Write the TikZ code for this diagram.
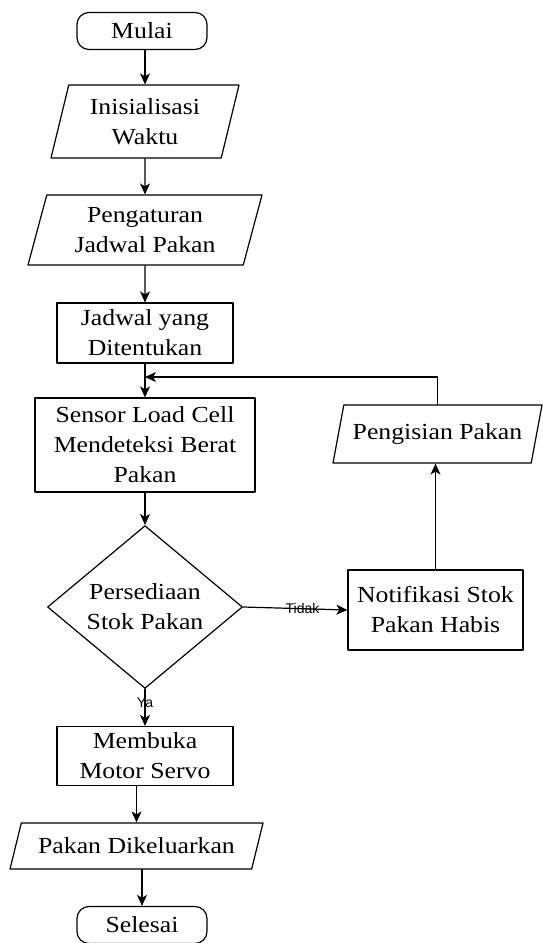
\documentclass[tikz,border=0pt]{standalone}
\usepackage{fontspec}
\setmainfont[FakeStretch=1.12]{Liberation Serif}
\newfontfamily\lblfont{Liberation Sans}
\usetikzlibrary{arrows.meta,shapes.geometric}

\tikzset{
	flow/.style={draw, align=center, inner sep=0pt, font=\fontsize{23}{30}\selectfont},
	terminal/.style={flow, rectangle, rounded corners=12pt},
	process/.style={flow, rectangle},
	io/.style 2 args={flow, trapezium, trapezium left angle=#1, trapezium right angle=#2, trapezium stretches body},
	decision/.style={flow, diamond},
	lbl/.style={inner sep=0pt, font=\lblfont\fontsize{14}{16}\selectfont},
	arrow/.style={-{Stealth[length=11pt,width=10pt,inset=3pt]}}
}

\begin{document}
\begin{tikzpicture}[line cap=round,line join=round,x=1pt,y=-1pt,line width=1.2pt]
	\useasboundingbox (0,0) rectangle (543,943);
	% main column
	\node[terminal, minimum width=130pt, minimum height=37pt] (mulai) at (142,31) {Mulai};
	\node[io={69}{111}, minimum width=188pt, minimum height=73pt] (waktu) at (145,121.5) {Inisialisasi\\Waktu};
	\node[io={67.5}{112.5}, minimum width=234pt, minimum height=70pt] (atur) at (145,230) {Pengaturan\\Jadwal Pakan};
	\node[process, minimum width=176pt, minimum height=60pt] (jadwal) at (145,333) {Jadwal yang\\Ditentukan};
	\node[process, minimum width=220pt, minimum height=94pt] (sensor) at (145,445) {Sensor Load Cell\\Mendeteksi Berat\\Pakan};
	\node[decision, minimum width=195pt, minimum height=160pt] (stok) at (145,607) {Persediaan\\Stok Pakan};
	\node[process, minimum width=176pt, minimum height=59pt] (buka) at (145,756) {Membuka\\Motor Servo};
	\node[io={55}{125}, minimum width=253pt, minimum height=46pt] (keluar) at (136.5,846) {Pakan Dikeluarkan};
	\node[terminal, minimum width=130pt, minimum height=37pt] (selesai) at (142,925) {Selesai};
	% side branch
	\node[process, minimum width=175pt, minimum height=80pt] (notif) at (435.5,610) {Notifikasi Stok\\Pakan Habis};
	\node[io={62.7}{117.3}, minimum width=209pt, minimum height=58pt] (isi) at (437.5,434) {Pengisian Pakan};
	\coordinate (balik) at (145,377);

	\draw[arrow] (mulai.south -| waktu.north) -- (waktu.north);
	\draw[arrow] (waktu) -- (atur);
	\draw[arrow] (atur) -- (jadwal);
	\draw[arrow] (jadwal) -- (sensor);
	\draw[arrow] (sensor) -- (stok);
	\draw[arrow] (stok.south) -- node[lbl, pos=0.375] (ya) {Ya} (buka.north);
	\draw[arrow] (buka.south -| keluar.north) -- (keluar.north);
	\draw[arrow] (keluar.south -| selesai.north) -- (selesai.north);
	\draw[arrow] (stok.east) -- node[lbl, pos=0.57] (tidak) {Tidak} (notif.west);
	\draw[arrow] (notif.north) -- (notif.north |- isi.south);
	\draw[arrow] (isi.north) |- (balik);
\end{tikzpicture}
\end{document}
